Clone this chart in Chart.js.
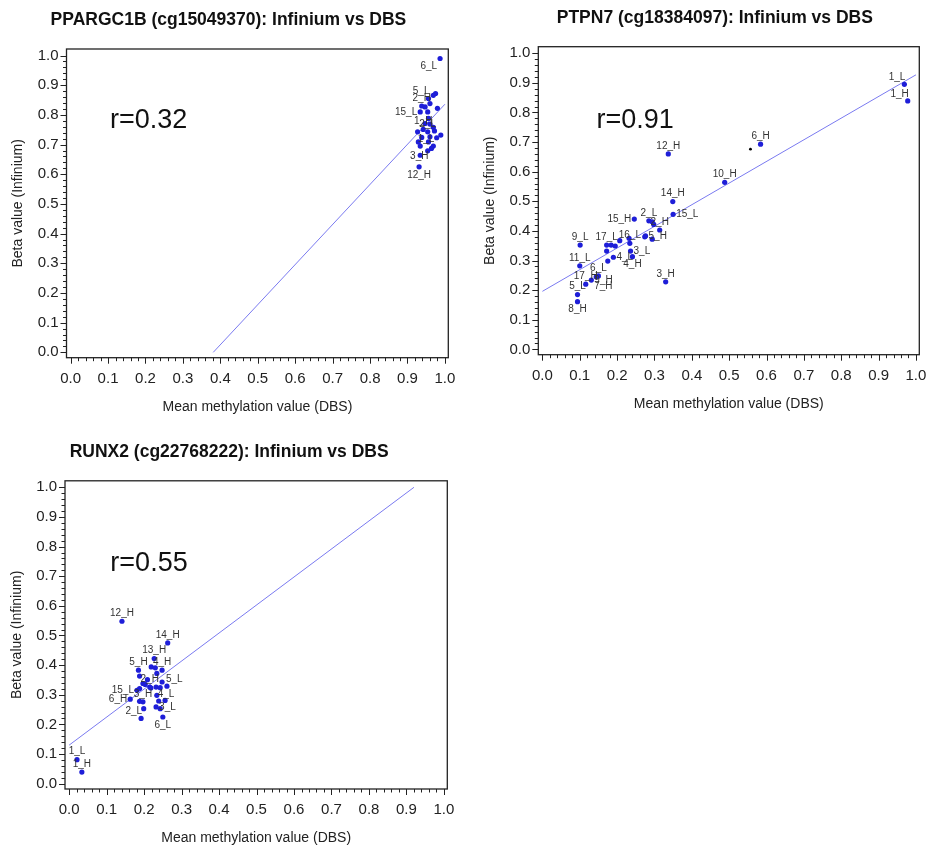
<!DOCTYPE html>
<html>
<head>
<meta charset="utf-8">
<script src="https://cdn.jsdelivr.net/npm/chart.js@4.4.1/dist/chart.umd.min.js"></script>
<style>
  html, body { margin: 0; padding: 0; background: #fff; }
  #wrap { position: relative; width: 929px; height: 848px; }
  #wrap canvas { position: absolute; left: 0; top: 0; }
</style>
</head>
<body>
<div id="wrap">
  <canvas id="chart1" width="929" height="848"></canvas>
  <canvas id="chart2" width="929" height="848"></canvas>
  <canvas id="chart3" width="929" height="848"></canvas>
</div>
<script>
// axis ticks (shared by the three panels)
const tickValues = [0, 0.1, 0.2, 0.3, 0.4, 0.5, 0.6, 0.7, 0.8, 0.9, 1.0];
const tickLabels = ["0.0", "0.1", "0.2", "0.3", "0.4", "0.5", "0.6", "0.7", "0.8", "0.9", "1.0"];

// PPARGC1B (cg15049370)
const p1Labels = ["6_L", "", "", "5_L", "", "2_H", "", "", "15_L", "", "", "", "", "", "1_H", "", "2_L", "", "", "", "", "", "", "", "1_L", "", "3_H", "", "", "12_H"];
const p1X = [0.987, 0.975, 0.969, 0.956, 0.960, 0.938, 0.947, 0.980, 0.934, 0.954, 0.956, 0.947, 0.960, 0.969, 0.942, 0.927, 0.954, 0.972, 0.989, 0.938, 0.960, 0.978, 0.929, 0.956, 0.969, 0.934, 0.964, 0.954, 0.934, 0.931];
const p1Y = [0.990, 0.872, 0.866, 0.855, 0.838, 0.830, 0.827, 0.822, 0.810, 0.810, 0.788, 0.771, 0.769, 0.758, 0.751, 0.743, 0.743, 0.746, 0.732, 0.724, 0.726, 0.723, 0.709, 0.709, 0.695, 0.695, 0.687, 0.679, 0.664, 0.625];
const p1LineX = [0.381, 1.0];
const p1LineY = [0.0, 0.836];

// PTPN7 (cg18384097)
const p2Labels = ["1_L", "1_H", "6_H", "10_H", "12_H", "14_H", "15_L", "15_H", "2_L", "", "", "2_H", "5_H", "", "", "16_L", "", "", "17_L", "", "", "3_L", "4_H", "4_L", "", "", "9_L", "11_L", "6_L", "7_H", "9_H", "17_H", "3_H", "5_L", "8_H"];
const p2X = [0.969, 0.978, 0.584, 0.488, 0.337, 0.349, 0.350, 0.246, 0.285, 0.294, 0.298, 0.314, 0.276, 0.274, 0.294, 0.234, 0.232, 0.207, 0.172, 0.184, 0.195, 0.236, 0.241, 0.190, 0.172, 0.175, 0.101, 0.100, 0.150, 0.144, 0.131, 0.116, 0.330, 0.094, 0.094];
const p2Y = [0.895, 0.839, 0.693, 0.564, 0.660, 0.499, 0.456, 0.440, 0.434, 0.431, 0.422, 0.403, 0.383, 0.380, 0.372, 0.358, 0.375, 0.367, 0.352, 0.352, 0.349, 0.332, 0.313, 0.311, 0.332, 0.298, 0.352, 0.282, 0.248, 0.245, 0.234, 0.220, 0.228, 0.185, 0.161];
const p2ExtraX = [0.557];
const p2ExtraY = [0.676];
const p2LineX = [0.0, 1.0];
const p2LineY = [0.196, 0.927];

// RUNX2 (cg22768222)
const p3Labels = ["12_H", "14_H", "13_H", "5_H", "4_H", "", "", "", "", "2_H", "", "", "", "", "5_L", "", "", "", "15_L", "", "6_H", "3_H", "", "4_L", "", "", "2_L", "", "3_L", "", "6_L", "1_L", "1_H"];
const p3X = [0.141, 0.263, 0.227, 0.185, 0.248, 0.219, 0.230, 0.234, 0.188, 0.215, 0.209, 0.197, 0.203, 0.218, 0.261, 0.248, 0.232, 0.243, 0.181, 0.188, 0.163, 0.197, 0.188, 0.239, 0.234, 0.256, 0.192, 0.199, 0.232, 0.243, 0.250, 0.021, 0.034];
const p3Y = [0.548, 0.475, 0.422, 0.383, 0.383, 0.394, 0.391, 0.372, 0.363, 0.326, 0.351, 0.338, 0.335, 0.323, 0.329, 0.343, 0.326, 0.324, 0.315, 0.321, 0.285, 0.276, 0.278, 0.279, 0.298, 0.281, 0.220, 0.253, 0.259, 0.253, 0.225, 0.081, 0.039];
const p3LineX = [0.0, 0.92];
const p3LineY = [0.13, 1.0];

// where each point label sits relative to its dot (default: top)
const p1Place = { "6_L": "bl", "5_L": "tl", "15_L": "l", "1_L": "tl", "3_H": "bl", "12_H": "b" };
const p2Place = { "1_L": "tl", "1_H": "tl", "15_L": "r", "15_H": "l", "5_H": "r", "3_L": "r", "4_H": "b", "4_L": "r", "7_H": "br", "9_H": "r", "8_H": "b" };
const p3Place = { "5_L": "tr", "15_L": "l", "6_H": "l", "4_L": "tr", "2_L": "tl", "3_L": "r", "6_L": "b" };

const FONT = "Arial, 'Liberation Sans', sans-serif";
const INK = "#222";

const decor = {
  id: "decor",
  afterDatasetsDraw(chart, args, o) {
    const ctx = chart.ctx;
    const a = chart.chartArea;
    const xs = chart.scales.x, ys = chart.scales.y;
    ctx.save();

    // point labels
    ctx.font = "10px " + FONT;
    ctx.fillStyle = "#333";
    const meta = chart.getDatasetMeta(0);
    chart.data.datasets[0].data.forEach((d, i) => {
      if (!d.label) return;
      const el = meta.data[i];
      const px = el.x, py = el.y;
      const pos = o.place[d.label] || "t";
      let tx = px, ty = py;
      if (pos === "t") { ctx.textAlign = "center"; ctx.textBaseline = "bottom"; ty = py - 3; }
      else if (pos === "b") { ctx.textAlign = "center"; ctx.textBaseline = "top"; ty = py + 3; }
      else if (pos === "l") { ctx.textAlign = "right"; ctx.textBaseline = "middle"; tx = px - 3; }
      else if (pos === "r") { ctx.textAlign = "left"; ctx.textBaseline = "middle"; tx = px + 3; }
      else if (pos === "tl") { ctx.textAlign = "right"; ctx.textBaseline = "bottom"; tx = px + 1; ty = py - 2; }
      else if (pos === "tr") { ctx.textAlign = "left"; ctx.textBaseline = "bottom"; tx = px - 1; ty = py - 2; }
      else if (pos === "bl") { ctx.textAlign = "right"; ctx.textBaseline = "top"; tx = px - 3; ty = py + 3; }
      else if (pos === "br") { ctx.textAlign = "left"; ctx.textBaseline = "top"; tx = px - 2; ty = py + 4; }
      ctx.fillText(d.label, tx, ty);
    });

    // frame
    ctx.strokeStyle = INK;
    ctx.lineWidth = 1.3;
    ctx.strokeRect(a.left, a.top, a.right - a.left, a.bottom - a.top);

    // major + minor ticks
    ctx.lineWidth = 1;
    ctx.beginPath();
    for (let k = 0; k <= 50; k++) {
      const v = k / 50;
      const len = k % 5 === 0 ? 6 : 3.5;
      const xp = Math.round(xs.getPixelForValue(v)) + 0.5;
      ctx.moveTo(xp, a.bottom);
      ctx.lineTo(xp, a.bottom + len);
      const yp = Math.round(ys.getPixelForValue(v)) + 0.5;
      ctx.moveTo(a.left, yp);
      ctx.lineTo(a.left - len, yp);
    }
    ctx.stroke();

    // tick labels
    ctx.fillStyle = INK;
    ctx.font = "15px " + FONT;
    ctx.textBaseline = "middle";
    tickValues.forEach((v, i) => {
      ctx.textAlign = "center";
      ctx.fillText(tickLabels[i], xs.getPixelForValue(v), a.bottom + 21);
      ctx.textAlign = "right";
      ctx.fillText(tickLabels[i], a.left - 8, ys.getPixelForValue(v));
    });

    // axis titles
    ctx.font = "14px " + FONT;
    ctx.textAlign = "center";
    ctx.fillText("Mean methylation value (DBS)", (a.left + a.right) / 2, a.bottom + 49);
    ctx.save();
    ctx.translate(a.left - 48, (a.top + a.bottom) / 2);
    ctx.rotate(-Math.PI / 2);
    ctx.fillText("Beta value (Infinium)", 0, 0);
    ctx.restore();

    // panel title
    ctx.font = "bold 17.5px " + FONT;
    ctx.fillStyle = "#111";
    ctx.fillText(o.title, (a.left + a.right) / 2 + o.titleShift, a.top - 29);

    // correlation
    ctx.font = "27px " + FONT;
    ctx.textAlign = "left";
    ctx.fillStyle = "#111";
    ctx.fillText(o.rText, xs.getPixelForValue(o.rAt[0]), ys.getPixelForValue(o.rAt[1]));

    ctx.restore();
  }
};

function toPoints(xs, ys, labels) {
  return xs.map((x, i) => ({ x, y: ys[i], label: labels ? labels[i] : "" }));
}

function makePanel(id, box, pts, line, extra, opts) {
  const datasets = [
    { type: "scatter", data: pts, pointRadius: 2.6, pointBackgroundColor: "#1e1ed8", pointBorderColor: "#1e1ed8", pointBorderWidth: 0, order: 1 },
    { type: "line", data: line, borderColor: "#7a7af0", borderWidth: 1, pointRadius: 0, fill: false, order: 2 }
  ];
  if (extra) {
    datasets.push({ type: "scatter", data: extra, pointRadius: 1.4, pointBackgroundColor: "#000", pointBorderWidth: 0, order: 0 });
  }
  new Chart(document.getElementById(id), {
    type: "scatter",
    data: { datasets },
    options: {
      responsive: false,
      animation: false,
      events: [],
      layout: { padding: { left: box[0], top: box[1], right: 929 - box[2], bottom: 848 - box[3] } },
      scales: {
        x: { type: "linear", min: -0.011, max: 1.009, display: false },
        y: { type: "linear", min: -0.018, max: 1.022, display: false }
      },
      plugins: { legend: { display: false }, tooltip: { enabled: false }, decor: opts }
    },
    plugins: [decor]
  });
}

makePanel("chart1", [66.5, 49, 448.3, 357.7],
  toPoints(p1X, p1Y, p1Labels), toPoints(p1LineX, p1LineY), null,
  { title: "PPARGC1B (cg15049370): Infinium vs DBS", titleShift: -29, rText: "r=0.32", rAt: [0.105, 0.782], place: p1Place });

makePanel("chart2", [538.3, 46.7, 919.3, 354.7],
  toPoints(p2X, p2Y, p2Labels), toPoints(p2LineX, p2LineY), toPoints(p2ExtraX, p2ExtraY),
  { title: "PTPN7 (cg18384097): Infinium vs DBS", titleShift: -14, rText: "r=0.91", rAt: [0.145, 0.771], place: p2Place });

makePanel("chart3", [65, 480.8, 447.3, 789],
  toPoints(p3X, p3Y, p3Labels), toPoints(p3LineX, p3LineY), null,
  { title: "RUNX2 (cg22768222): Infinium vs DBS", titleShift: -27, rText: "r=0.55", rAt: [0.110, 0.744], place: p3Place });
</script>
</body>
</html>
